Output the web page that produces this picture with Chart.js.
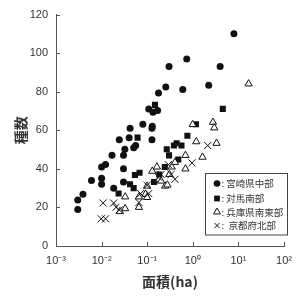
<!DOCTYPE html>
<html><head><meta charset="utf-8">
<script src="https://cdn.jsdelivr.net/npm/chart.js@4/dist/chart.umd.min.js"></script>
<style>html,body{margin:0;padding:0;background:#fff}#w{width:300px;height:302px}</style>
</head><body><div id="w"><canvas id="c" width="300" height="302"></canvas></div>
<script>
// ---- data ----
const seriesNames = ['宮崎県中部', '対馬南部', '兵庫県南東部', '京都府北部'];
const miyazakiArea = [0.003,0.003,0.0039,0.006,0.010,0.010,0.010,0.0122,0.0169,0.0184,0.0244,0.0302,0.0302,0.0323,0.0401,0.0421,0.0505,0.0558,0.0802,0.108,0.127,0.127,0.129,0.134,0.169,0.177,0.255,0.301,0.603,0.735,2.23,3.97,7.96,0.0302];
const miyazakiSpecies = [23.8,18.9,26.9,34.0,41.0,35.1,32.0,42.2,47.1,30.0,55.1,47.1,40.0,50.2,56.2,61.1,51.0,52.1,63.1,71.1,61.1,55.1,62.1,69.4,70.3,79.3,82.4,93.1,81.2,97.0,83.4,93.1,110.1,33.2];
const tsushimaArea = [0.0236,0.042,0.0505,0.0538,0.0679,0.0615,0.148,0.141,0.183,0.243,0.268,0.301,0.385,0.441,0.479,0.564,0.76,1.17,4.54];
const tsushimaSpecies = [27.2,32.0,30.0,36.8,38.0,56.2,73.2,33.2,37.1,41.0,50.2,47.0,52.1,53.3,44.9,52.1,57.2,63.1,71.1];
const hyogoArea = [0.0328,0.0328,0.0252,0.0658,0.0658,0.0914,0.0993,0.0993,0.129,0.163,0.183,0.202,0.247,0.277,0.306,0.344,0.406,0.689,0.689,0.991,1.19,1.63,2.76,2.95,3.31,16.7];
const hyogoSpecies = [25.5,19.4,17.9,20.1,25.5,26.9,31.1,25.2,38.8,41.0,34.6,33.7,31.1,31.7,37.1,41.0,43.4,47.0,40.0,63.0,54.1,46.1,64.2,61.3,53.3,84.1];
const kyotoArea = [0.0108,0.0098,0.0122,0.0184,0.0207,0.0244,0.0658,0.0715,0.0993,0.108,0.177,0.202,0.291,0.333,0.406,0.957,2.12];
const kyotoSpecies = [22.3,14.1,14.1,22.3,20.1,18.7,22.6,27.2,31.5,27.2,35.7,37.1,42.2,37.1,34.6,43.1,52.1];
const xTickValues = [0.001,0.01,0.1,1,10,100];
const xTickLabels = ['10⁻³','10⁻²','10⁻¹','10⁰','10¹','10²'];
const yTickValues = [0,20,40,60,80,100,120];
const xTitle = '面積(ha)';
const yTitle = '種数';

const pts = (xs, ys) => xs.map((x, i) => ({x: x, y: ys[i]}));
const INK = '#111';
const AX = '#555';
const TXT = '#333';

const styles = [
  {pointStyle:'circle', radius:3.5, bg:INK, bc:INK, bw:0},
  {pointStyle:'rect', radius:4.3, bg:INK, bc:INK, bw:0},
  {pointStyle:'triangle', radius:4.2, bg:'#fff', bc:INK, bw:1},
  {pointStyle:'crossRot', radius:5, bg:INK, bc:INK, bw:1},
];
const dataArr = [pts(miyazakiArea, miyazakiSpecies), pts(tsushimaArea, tsushimaSpecies), pts(hyogoArea, hyogoSpecies), pts(kyotoArea, kyotoSpecies)];
const datasets = dataArr.map((d, i) => ({
  label: seriesNames[i], data: d,
  pointStyle: styles[i].pointStyle, pointRadius: styles[i].radius,
  pointBackgroundColor: styles[i].bg, pointBorderColor: styles[i].bc, pointBorderWidth: styles[i].bw,
  showLine: false
}));
datasets.reverse();

const inwardTicks = {
  id: 'inwardTicks',
  afterDatasetsDraw(chart) {
    const ctx = chart.ctx, a = chart.chartArea;
    const xs = chart.scales.x, ys = chart.scales.y;
    ctx.save();
    ctx.strokeStyle = AX; ctx.lineWidth = 1;
    ctx.beginPath();
    xTickValues.forEach(v => { const p = Math.round(xs.getPixelForValue(v)) + 0.5; ctx.moveTo(p, a.bottom); ctx.lineTo(p, a.bottom - 4); });
    yTickValues.forEach(v => { const p = Math.round(ys.getPixelForValue(v)) + 0.5; ctx.moveTo(a.left, p); ctx.lineTo(a.left + 4, p); });
    ctx.stroke();
    // legend
    const lx = 205.5, ly = 173.5, lw = 82, lh = 61.5;
    ctx.fillStyle = '#fff'; ctx.fillRect(lx, ly, lw, lh);
    ctx.strokeStyle = '#444'; ctx.lineWidth = 1; ctx.strokeRect(lx, ly, lw, lh);
    const rows = [183.5, 198.5, 212, 225.5];
    ctx.font = '9.5px "Noto Sans CJK JP", sans-serif';
    ctx.textBaseline = 'middle'; ctx.textAlign = 'left';
    [0,1,2,3].forEach((si, k) => {
      const s = styles[si];
      ctx.fillStyle = s.bg; ctx.strokeStyle = s.bc; ctx.lineWidth = s.bw;
      const r = s.pointStyle === 'crossRot' ? 3.5 : (s.pointStyle === 'triangle' ? 4 : s.radius * 0.95);
      Chart.helpers.drawPoint(ctx, {pointStyle: s.pointStyle, radius: r, rotation: 0, borderWidth: s.bw}, 217, rows[k]);
      ctx.fillStyle = TXT;
      ctx.fillText(si === 3 ? ':  ' + seriesNames[si] : ': ' + seriesNames[si], 221.5, rows[k]);
    });
    ctx.restore();
  }
};

new Chart(document.getElementById('c'), {
  type: 'scatter',
  data: { datasets },
  options: {
    responsive: false, animation: false,
    layout: { padding: { left: 12, right: 12, top: 11, bottom: 12 } },
    plugins: { legend: { display: false }, tooltip: { enabled: false } },
    scales: {
      x: {
        type: 'logarithmic', min: 0.001, max: 100,
        afterBuildTicks: s => { s.ticks = xTickValues.map(v => ({ value: v })); },
        afterFit: s => { s.height = 44; },
        grid: { display: false, drawTicks: false },
        border: { display: true, color: AX, width: 1 },
        ticks: {
          padding: 8, color: TXT, autoSkip: false, maxRotation: 0,
          font: { family: 'Liberation Sans, Arial, sans-serif', size: 11 },
          callback: (v) => { const i = xTickValues.findIndex(t => Math.abs(Math.log10(t) - Math.log10(v)) < 1e-6); return i >= 0 ? xTickLabels[i] : ''; }
        },
        title: { display: true, text: xTitle, color: TXT, padding: { top: 4, bottom: 0 },
          font: { family: '"Noto Sans CJK JP", sans-serif', size: 14, weight: 'bold' } }
      },
      y: {
        min: 0, max: 120,
        afterBuildTicks: s => { s.ticks = yTickValues.map(v => ({ value: v })); },
        afterFit: s => { s.width = 44; },
        grid: { display: false, drawTicks: false },
        border: { display: true, color: AX, width: 1 },
        ticks: { padding: 8, color: TXT, font: { family: 'Liberation Sans, Arial, sans-serif', size: 11 } },
        title: { display: true, text: yTitle, color: TXT, padding: { top: 0, bottom: 6 },
          font: { family: '"Noto Sans CJK JP", sans-serif', size: 14, weight: 'bold' } }
      }
    }
  },
  plugins: [inwardTicks]
});
</script></body></html>
